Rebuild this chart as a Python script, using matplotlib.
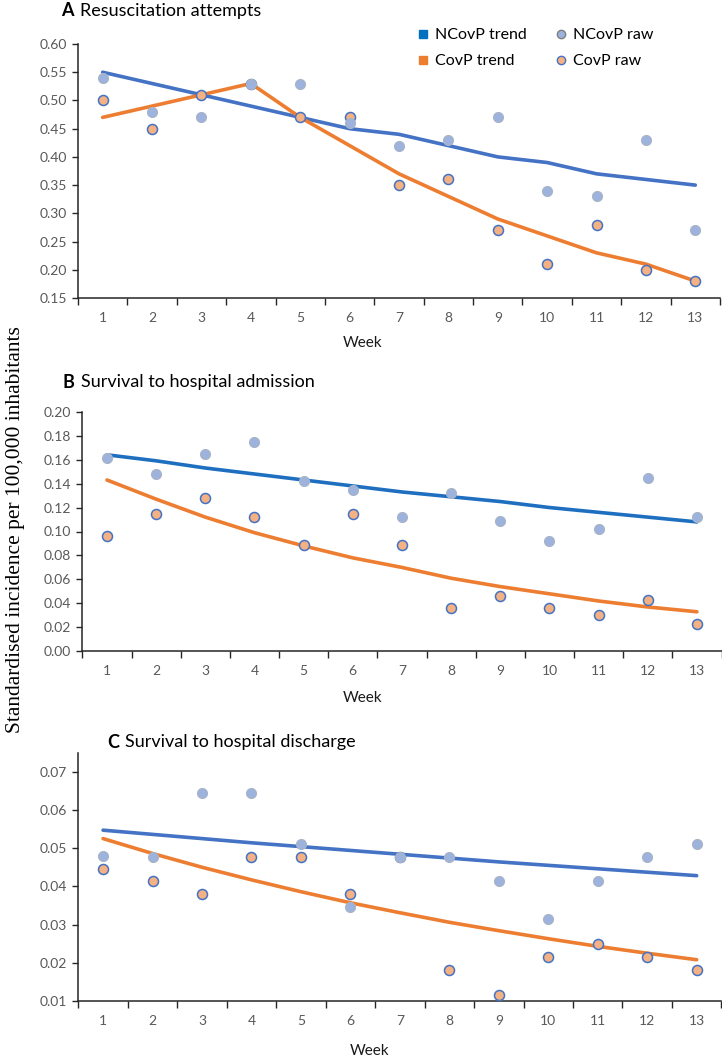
import numpy as np
import matplotlib
matplotlib.use("Agg")
import matplotlib.pyplot as plt
from matplotlib.lines import Line2D

plt.rcParams["font.family"] = ["Lato", "DejaVu Sans"]

weeks = list(range(1, 14))

# A Resuscitation attempts
a_ncovp_raw = [0.54, 0.48, 0.47, 0.53, 0.53, 0.46, 0.42, 0.43, 0.47, 0.34, 0.33, 0.43, 0.27]
a_covp_raw = [0.50, 0.45, 0.51, 0.53, 0.47, 0.47, 0.35, 0.36, 0.27, 0.21, 0.28, 0.20, 0.18]
a_ncovp_trend = [0.55, 0.53, 0.51, 0.49, 0.47, 0.45, 0.44, 0.42, 0.40, 0.39, 0.37, 0.36, 0.35]
a_covp_trend = [0.47, 0.49, 0.51, 0.53, 0.47, 0.42, 0.37, 0.33, 0.29, 0.26, 0.23, 0.21, 0.18]

# B Survival to hospital admission
b_ncovp_raw = [0.161, 0.148, 0.165, 0.175, 0.142, 0.135, 0.112, 0.132, 0.109, 0.092, 0.102, 0.145, 0.112]
b_covp_raw = [0.096, 0.115, 0.128, 0.112, 0.089, 0.115, 0.089, 0.036, 0.046, 0.036, 0.030, 0.043, 0.023]
b_ncovp_trend = [0.164, 0.159, 0.153, 0.148, 0.143, 0.138, 0.133, 0.129, 0.125, 0.120, 0.116, 0.112, 0.108]
b_covp_trend = [0.143, 0.127, 0.112, 0.099, 0.088, 0.078, 0.070, 0.061, 0.054, 0.048, 0.042, 0.037, 0.033]

# C Survival to hospital discharge
c_ncovp_raw = [0.0479, 0.0478, 0.0643, 0.0643, 0.0511, 0.0347, 0.0478, 0.0478, 0.0413, 0.0314, 0.0413, 0.0478, 0.0511]
c_covp_raw = [0.0446, 0.0413, 0.0381, 0.0478, 0.0478, 0.0381, 0.0478, 0.0182, 0.0117, 0.0215, 0.0248, 0.0215, 0.0182]
c_ncovp_trend = [0.0547, 0.0536, 0.0525, 0.0514, 0.0504, 0.0494, 0.0484, 0.0474, 0.0464, 0.0455, 0.0446, 0.0437, 0.0428]
c_covp_trend = [0.0525, 0.0486, 0.0450, 0.0417, 0.0386, 0.0357, 0.0331, 0.0306, 0.0284, 0.0263, 0.0243, 0.0225, 0.0208]

BLUE = "#4472C4"
ORANGE = "#ED7D31"
GREY_TXT = "#595959"

W, H = 722, 1061
fig = plt.figure(figsize=(W / 100, H / 100), dpi=100)


def px_axes(l, r, t, b):
    return fig.add_axes([l / W, 1 - b / H, (r - l) / W, (b - t) / H])


def draw_panel(ax, ncovp_raw, covp_raw, ncovp_trend, covp_trend, ylim, yticks, fmt, blue):
    ax.plot(weeks, ncovp_trend, color=blue, lw=2.6, solid_capstyle="round", zorder=2)
    ax.plot(weeks, covp_trend, color=ORANGE, lw=2.6, solid_capstyle="round", zorder=2)
    ax.scatter(weeks, covp_raw, s=52, facecolor="#F4B183", edgecolor=BLUE, lw=1.1, zorder=3)
    ax.scatter(weeks, ncovp_raw, s=52, facecolor="#9DB3DD", edgecolor="#A9B4C4", lw=0.8, zorder=4)
    ax.set_xlim(0.5, 13.5)
    ax.set_ylim(*ylim)
    ax.set_xticks(weeks)
    ax.set_xticks(np.arange(0.5, 14.0, 1.0), minor=True)
    ax.tick_params(axis="x", which="major", length=0, pad=10, labelsize=10, labelcolor=GREY_TXT)
    ax.tick_params(axis="x", which="minor", length=5, width=1, color="#262626", direction="out")
    ax.set_yticks(yticks)
    ax.set_yticklabels([fmt.format(v) for v in yticks])
    ax.tick_params(axis="y", length=4, width=1, color="#262626", pad=4, labelsize=10, labelcolor=GREY_TXT)
    for s in ["top", "right"]:
        ax.spines[s].set_visible(False)
    for s in ["left", "bottom"]:
        ax.spines[s].set_color("#262626")
        ax.spines[s].set_linewidth(1.1)
    ax.patch.set_alpha(0)


ax_a = px_axes(78, 720, 44, 298)
draw_panel(ax_a, a_ncovp_raw, a_covp_raw, a_ncovp_trend, a_covp_trend,
           (0.15, 0.60), np.arange(0.15, 0.601, 0.05), "{:.2f}", BLUE)

ax_b = px_axes(82.4, 721.5, 411.7, 651.3)
draw_panel(ax_b, b_ncovp_raw, b_covp_raw, b_ncovp_trend, b_covp_trend,
           (0.0, 0.20), np.arange(0.0, 0.201, 0.02), "{:.2f}", "#1F6FC0")

ax_c = px_axes(78.3, 721.4, 752.6, 1001)
draw_panel(ax_c, c_ncovp_raw, c_covp_raw, c_ncovp_trend, c_covp_trend,
           (0.01, 0.075), np.arange(0.01, 0.0701, 0.01), "{:.2f}", BLUE)

# panel titles
titles = [("A", "Resuscitation attempts", 61, 80, 11),
          ("B", "Survival to hospital admission", 63, 81, 382),
          ("C", "Survival to hospital discharge", 107, 125, 742)]
for letter, txt, xl, xt, yc in titles:
    fig.text(xl / W, 1 - yc / H, letter, fontsize=13, fontweight="bold", va="center", ha="left")
    fig.text(xt / W, 1 - yc / H, txt, fontsize=13, va="center", ha="left")

# x axis titles
for xc, yc in [(363, 343), (363, 698), (370, 1051)]:
    fig.text(xc / W, 1 - yc / H, "Week", fontsize=11, ha="center", va="center", color="#1a1a1a")

# shared y label
fig.text(16 / W, 1 - 530 / H, "Standardised incidence per 100,000 inhabitants",
         rotation=90, ha="center", va="center", fontsize=15.5, family="Liberation Serif")

# legend
handles = [
    Line2D([], [], marker="s", ls="none", markersize=6, color="#0070C0"),
    Line2D([], [], marker="s", ls="none", markersize=6, color=ORANGE),
    Line2D([], [], marker="o", ls="none", markersize=6, markerfacecolor="#9DB3DD", markeredgecolor="#7F7F7F"),
    Line2D([], [], marker="o", ls="none", markersize=6, markerfacecolor="#F4B183", markeredgecolor=BLUE),
]
labels = ["NCovP trend", "CovP trend", "NCovP raw", "CovP raw"]
fig.legend(handles, labels, ncol=2, frameon=False, fontsize=11.5,
           loc="upper left", bbox_to_anchor=(417 / W, 1 - 28 / H),
           borderpad=0, borderaxespad=0, handlelength=0.8, handletextpad=0.35,
           columnspacing=1.7, labelspacing=0.75)

fig.savefig("out.png", dpi=100)
